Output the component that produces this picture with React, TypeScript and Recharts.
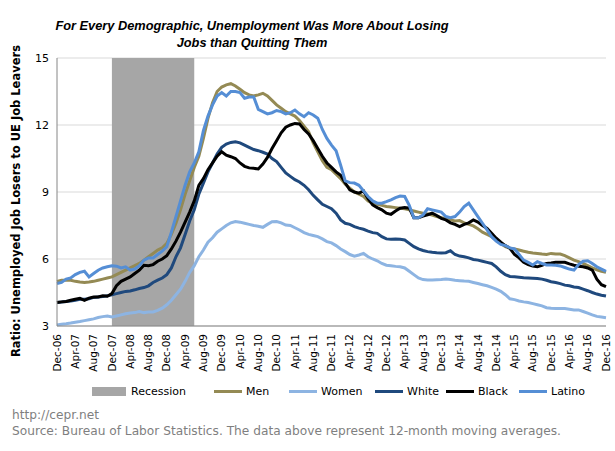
import { LineChart, Line, XAxis, YAxis, CartesianGrid, ReferenceArea } from 'recharts';

const MONTH_NAMES = ['Dec', 'Jan', 'Feb', 'Mar', 'Apr', 'May', 'Jun', 'Jul', 'Aug', 'Sep', 'Oct', 'Nov'];
const START_YEAR = 2006;
const Y_TICKS = [3, 6, 9, 12, 15];
const RECESSION = ['Dec-07', 'Jun-09'];

// Dec-06 .. Dec-16, one value per month (12-month moving averages)
const men = [
  5.0, 5.05, 5.05, 5.05, 5.0, 4.97, 4.95, 4.97, 5.0, 5.05, 5.1, 5.15,
  5.2, 5.3, 5.4, 5.5, 5.6, 5.7, 5.8, 5.95, 6.1, 6.25, 6.4, 6.5,
  6.7, 7.1, 7.6, 8.2, 8.9, 9.5, 10.1, 10.6, 11.4, 12.3, 13.0, 13.5,
  13.7, 13.8, 13.85, 13.75, 13.6, 13.45, 13.35, 13.3, 13.35, 13.42, 13.3, 13.1,
  12.9, 12.75, 12.6, 12.5, 12.4, 12.2, 11.95, 11.7, 11.2, 10.8, 10.4, 10.1,
  10.0, 9.8, 9.6, 9.35, 9.17, 9.0, 8.9, 8.8, 8.6, 8.5, 8.45, 8.4,
  8.35, 8.33, 8.3, 8.27, 8.25, 8.2, 8.15, 8.1, 8.05, 8.02, 7.97, 7.9,
  7.85, 7.8, 7.75, 7.7, 7.72, 7.62, 7.55, 7.48, 7.35, 7.2, 7.1, 7.0,
  6.85, 6.7, 6.55, 6.48, 6.45, 6.4, 6.35, 6.3, 6.27, 6.25, 6.22, 6.2,
  6.25, 6.22, 6.22, 6.15, 6.05, 5.95, 5.88, 5.8, 5.7, 5.6, 5.52, 5.45,
  5.4,
];

const women = [
  3.05, 3.08, 3.1, 3.13, 3.17, 3.2, 3.24, 3.28, 3.32, 3.38, 3.42, 3.45,
  3.4, 3.45, 3.5, 3.55, 3.58, 3.6, 3.65, 3.6, 3.63, 3.63, 3.7, 3.8,
  3.95, 4.15, 4.4, 4.65, 5.0, 5.4, 5.7, 6.1, 6.4, 6.75, 6.95, 7.2,
  7.35, 7.5, 7.62, 7.68, 7.65, 7.6, 7.55, 7.5, 7.47, 7.42, 7.55, 7.67,
  7.68, 7.62, 7.52, 7.5, 7.4, 7.3, 7.18, 7.1, 7.05, 7.0, 6.9, 6.78,
  6.72, 6.6, 6.45, 6.33, 6.2, 6.13, 6.18, 6.25, 6.1, 6.0, 5.92, 5.8,
  5.72, 5.7, 5.67, 5.65, 5.6, 5.45, 5.3, 5.15, 5.08, 5.06, 5.06, 5.07,
  5.08, 5.1, 5.08, 5.05, 5.03, 5.01, 5.0, 4.95, 4.9, 4.85, 4.8, 4.73,
  4.65, 4.55, 4.4, 4.22, 4.18, 4.12, 4.08, 4.05, 4.0, 3.95, 3.9, 3.82,
  3.79, 3.78, 3.78, 3.78, 3.75, 3.72, 3.72, 3.65, 3.58, 3.5, 3.43, 3.4,
  3.37,
];

const white = [
  4.05, 4.07, 4.1, 4.12, 4.15, 4.2, 4.2, 4.22, 4.28, 4.3, 4.32, 4.35,
  4.4, 4.45, 4.5, 4.55, 4.57, 4.62, 4.68, 4.72, 4.8, 4.95, 5.05, 5.15,
  5.3, 5.6, 6.1, 6.5, 7.1, 7.7, 8.2, 8.9, 9.4, 9.9, 10.3, 10.7,
  11.0, 11.15, 11.22, 11.25, 11.2, 11.1, 11.0, 10.9, 10.85, 10.78, 10.7, 10.5,
  10.36, 10.1, 9.85, 9.7, 9.55, 9.45, 9.3, 9.1, 8.85, 8.65, 8.45, 8.35,
  8.25, 8.05, 7.75, 7.6, 7.55, 7.45, 7.38, 7.33, 7.25, 7.18, 7.15, 7.0,
  6.9, 6.88, 6.9, 6.88, 6.85, 6.7, 6.55, 6.45, 6.38, 6.33, 6.3, 6.28,
  6.27, 6.28, 6.37, 6.2, 6.13, 6.1, 6.05, 5.98, 5.95, 5.9, 5.85, 5.8,
  5.65, 5.45, 5.3, 5.22, 5.2, 5.18, 5.16, 5.15, 5.14, 5.13, 5.1, 5.05,
  4.98, 4.95, 4.9, 4.83, 4.8, 4.75, 4.72, 4.65, 4.58, 4.5, 4.43, 4.38,
  4.34,
];

const black = [
  4.05, 4.08, 4.1, 4.15, 4.2, 4.24, 4.15, 4.25, 4.3, 4.3, 4.35, 4.33,
  4.45, 4.8, 5.0, 5.1, 5.2, 5.35, 5.5, 5.72, 5.7, 5.75, 5.9, 6.0,
  6.15, 6.45, 6.8, 7.2, 7.65, 8.1, 8.6, 9.3, 9.6, 10.0, 10.3, 10.6,
  10.8, 10.65, 10.58, 10.5, 10.3, 10.15, 10.08, 10.06, 10.03, 10.25, 10.55, 10.95,
  11.3, 11.65, 11.9, 12.0, 12.07, 12.05, 11.8, 11.6, 11.3, 10.95, 10.6, 10.3,
  10.1, 9.9, 9.75, 9.4, 9.1, 9.0, 8.95, 9.05, 8.7, 8.42, 8.3, 8.2,
  8.05, 8.0, 8.15, 8.27, 8.3, 8.28, 7.85, 7.85, 7.92, 7.98, 8.05, 7.95,
  7.82, 7.75, 7.62, 7.55, 7.45, 7.55, 7.62, 7.75, 7.65, 7.5, 7.37, 7.15,
  6.93, 6.75, 6.6, 6.48, 6.2, 6.05, 5.85, 5.75, 5.68, 5.65, 5.72, 5.8,
  5.82, 5.85, 5.86, 5.85, 5.78, 5.72, 5.68, 5.65, 5.6, 5.5, 5.1, 4.85,
  4.76,
];

const latino = [
  4.9, 4.95, 5.1, 5.15, 5.3, 5.4, 5.45, 5.2, 5.35, 5.5, 5.6, 5.65,
  5.7, 5.68, 5.6, 5.65, 5.5, 5.55, 5.7, 5.95, 6.05, 6.05, 6.2, 6.35,
  6.55, 7.2, 7.9, 8.6, 9.3, 9.9, 10.3, 10.8, 11.75, 12.4, 12.9, 13.3,
  13.45, 13.3, 13.5, 13.5, 13.45, 13.2, 13.25, 13.25, 12.7, 12.6, 12.5, 12.55,
  12.65, 12.6, 12.5, 12.55, 12.67, 12.5, 12.37, 12.55, 12.45, 12.3, 11.8, 11.4,
  11.1, 10.85, 10.2, 9.5, 9.42, 9.4, 9.3, 9.05, 8.8, 8.6, 8.5, 8.5,
  8.57, 8.65, 8.75, 8.82, 8.8, 8.4, 7.85, 7.85, 7.97, 8.25, 8.2, 8.15,
  8.1, 7.9, 7.85, 7.9, 8.1, 8.35, 8.5, 8.2, 7.9, 7.6, 7.3, 7.0,
  6.8, 6.65, 6.6, 6.5, 6.45, 6.2, 5.95, 5.85, 5.73, 5.88, 5.8, 5.73,
  5.73, 5.72, 5.69, 5.62, 5.55, 5.5, 5.75, 5.9, 5.92, 5.8, 5.65, 5.55,
  5.45,
];

const SERIES = [
  { key: 'men', name: 'Men', color: '#948A54', values: men },
  { key: 'women', name: 'Women', color: '#8DB4E2', values: women },
  { key: 'white', name: 'White', color: '#1F497D', values: white },
  { key: 'black', name: 'Black', color: '#000000', values: black },
  { key: 'latino', name: 'Latino', color: '#558ED5', values: latino },
];

const months = men.map((_, i) => {
  const year = START_YEAR + Math.floor((i + 11) / 12);
  return `${MONTH_NAMES[i % 12]}-${String(year).slice(2)}`;
});

const data = months.map((month, i) => {
  const row: Record<string, any> = { month };
  SERIES.forEach((s) => { row[s.key] = s.values[i]; });
  return row;
});

const FONT = '"DejaVu Sans", Verdana, sans-serif';

// left edge of each legend swatch (layout only)
const LEGEND_LEFT = [214, 289, 375, 446, 519];

const XTick = ({ x, y, payload }: any) => (
  <g transform={`translate(${x},${y})`}>
    <text transform="rotate(-90)" textAnchor="end" dy="0.35em" x={0} fontSize={10.5} fill="#000" fontFamily={FONT}>
      {payload.value}
    </text>
  </g>
);

function LegendRow() {
  return (
    <div style={{ position: 'absolute', top: 384, left: 0, width: 615, height: 16, fontFamily: FONT, fontSize: 11, color: '#000' }}>
      <div style={{ position: 'absolute', left: 92, top: 3, width: 34, height: 9, background: '#A6A6A6' }} />
      <div style={{ position: 'absolute', left: 131, top: 0, lineHeight: '15px' }}>Recession</div>
      {SERIES.map((s, i) => (
        <div key={s.key}>
          <div style={{ position: 'absolute', left: LEGEND_LEFT[i], top: 6, width: 28, height: 3, background: s.color }} />
          <div style={{ position: 'absolute', left: LEGEND_LEFT[i] + 32, top: 0, lineHeight: '15px' }}>{s.name}</div>
        </div>
      ))}
    </div>
  );
}

export default function App() {
  return (
    <div style={{ position: 'absolute', left: 0, top: 0, width: 615, height: 451, background: '#fff' }}>
      <div style={{ position: 'absolute', top: 17, left: 52, width: 400, textAlign: 'center', fontFamily: '"Liberation Sans", Arial, sans-serif', fontWeight: 'bold', fontStyle: 'italic', fontSize: 12.8, lineHeight: '17px', color: '#000' }}>
        For Every Demographic, Unemployment Was More About Losing<br />Jobs than Quitting Them
      </div>
      <LineChart width={615} height={451} data={data} margin={{ top: 58, right: 9, left: 0, bottom: 65 }}>
        <CartesianGrid vertical={false} stroke="#D9D9D9" />
        <ReferenceArea x1={RECESSION[0]} x2={RECESSION[1]} y1={3} y2={15} fill="#A6A6A6" fillOpacity={1} stroke="none" ifOverflow="hidden" />
        <XAxis dataKey="month" interval={3} tick={<XTick />} tickLine={false} height={60} stroke="#868686" />
        <YAxis domain={[3, 15]} ticks={Y_TICKS} width={57} tickLine={false} stroke="#868686" tick={{ fontSize: 11, fill: '#000', fontFamily: FONT }} />
        {SERIES.map((s) => (
          <Line key={s.key} type="linear" dataKey={s.key} name={s.name} stroke={s.color} strokeWidth={3} dot={false} isAnimationActive={false} />
        ))}
      </LineChart>
      <LegendRow />
      <div style={{ position: 'absolute', left: 16, top: 201, transform: 'translate(-50%, -50%) rotate(-90deg)', whiteSpace: 'nowrap', fontFamily: FONT, fontWeight: 'bold', fontSize: 11.5 }}>
        Ratio: Unemployed Job Losers to UE Job Leavers
      </div>
      <div style={{ position: 'absolute', left: 12, top: 407, fontFamily: FONT, fontSize: 12.2, lineHeight: '16px', color: '#7F7F7F' }}>
        http://cepr.net<br />Source: Bureau of Labor Statistics. The data above represent 12-month moving averages.
      </div>
    </div>
  );
}
